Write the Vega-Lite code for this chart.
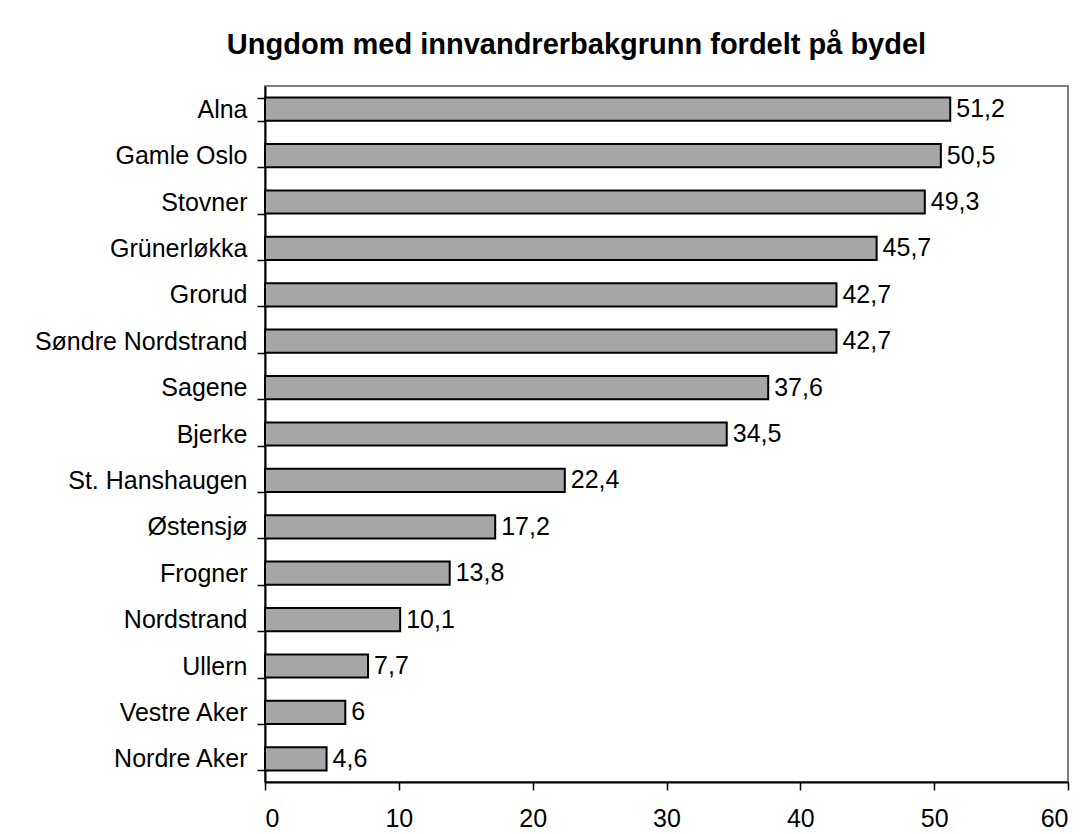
{
  "$schema": "https://vega.github.io/schema/vega-lite/v6.json",
  "autosize": {"type": "none"},
  "padding": {"left": 265, "top": 86, "right": 20, "bottom": 52},
  "width": 803,
  "height": 696,
  "background": "white",
  "title": {
    "text": "Ungdom med innvandrerbakgrunn fordelt på bydel",
    "font": "Liberation Sans",
    "fontSize": 29,
    "fontWeight": "bold",
    "color": "black",
    "anchor": "middle",
    "frame": "group",
    "dx": -90,
    "offset": 14
  },
  "config": {
    "locale": {"number": {"decimal": ",", "thousands": ".", "grouping": [3], "currency": ["", " kr"]}},
    "view": {"stroke": "#808080", "strokeWidth": 2},
    "font": "Liberation Sans",
    "axis": {
      "domainColor": "black",
      "domainWidth": 2,
      "tickColor": "black",
      "tickWidth": 1.5,
      "tickSize": 8,
      "labelFont": "Liberation Sans",
      "labelFontSize": 25,
      "labelColor": "black",
      "grid": false,
      "title": null
    }
  },
  "data": {
    "values": [
      {"bydel": "Alna", "andel": 51.2},
      {"bydel": "Gamle Oslo", "andel": 50.5},
      {"bydel": "Stovner", "andel": 49.3},
      {"bydel": "Grünerløkka", "andel": 45.7},
      {"bydel": "Grorud", "andel": 42.7},
      {"bydel": "Søndre Nordstrand", "andel": 42.7},
      {"bydel": "Sagene ", "andel": 37.6},
      {"bydel": "Bjerke", "andel": 34.5},
      {"bydel": "St. Hanshaugen", "andel": 22.4},
      {"bydel": "Østensjø", "andel": 17.2},
      {"bydel": "Frogner", "andel": 13.8},
      {"bydel": "Nordstrand", "andel": 10.1},
      {"bydel": "Ullern", "andel": 7.7},
      {"bydel": "Vestre Aker", "andel": 6},
      {"bydel": "Nordre Aker", "andel": 4.6}
    ]
  },
  "encoding": {
    "y": {
      "field": "bydel",
      "type": "nominal",
      "sort": null,
      "scale": {"paddingInner": 0.5, "paddingOuter": 0.25},
      "axis": {"tickBand": "extent", "labelPadding": 10, "labelLimit": 400}
    },
    "x": {
      "field": "andel",
      "type": "quantitative",
      "scale": {"domain": [0, 60], "nice": false},
      "axis": {"values": [0, 10, 20, 30, 40, 50, 60], "labelPadding": 16, "format": "d"}
    }
  },
  "layer": [
    {
      "mark": {"type": "bar", "fill": "#a6a6a6", "stroke": "black", "strokeWidth": 2}
    },
    {
      "mark": {"type": "text", "align": "left", "dx": 6, "fontSize": 25, "font": "Liberation Sans", "color": "black"},
      "encoding": {
        "text": {"field": "andel", "type": "quantitative", "format": ".1~f"}
      }
    }
  ]
}
